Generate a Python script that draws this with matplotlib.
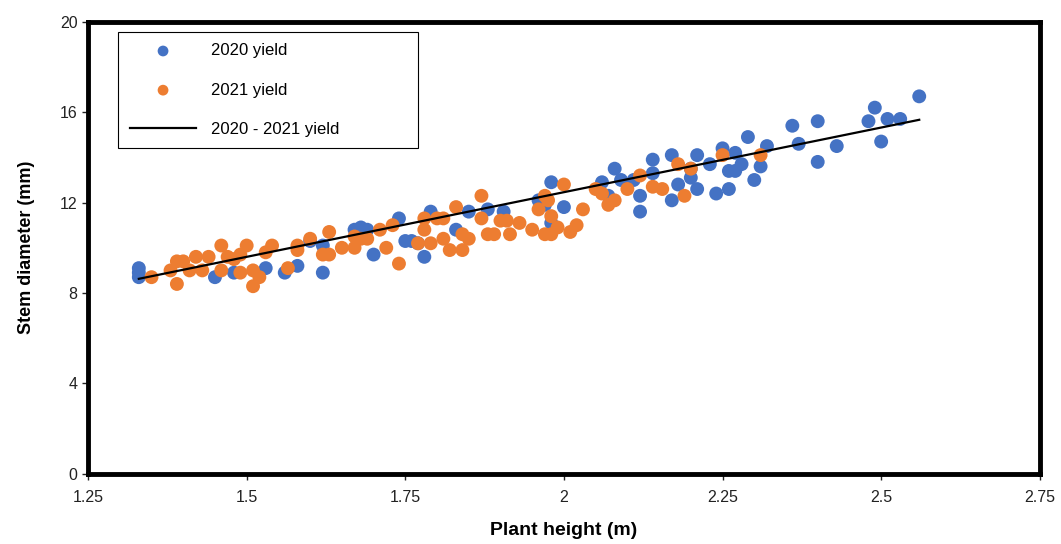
import numpy as np
import matplotlib
matplotlib.use("Agg")
import matplotlib.pyplot as plt

plt.rcParams['font.family'] = ['Liberation Sans', 'DejaVu Sans']

# 2020 yield: plant height (m), stem diameter (mm)
height_2020 = [1.33, 1.33, 1.33, 1.45, 1.48, 1.53, 1.56, 1.58, 1.60, 1.62,
               1.62, 1.67, 1.68, 1.69, 1.70, 1.74, 1.75, 1.76, 1.77, 1.78,
               1.79, 1.83, 1.85, 1.88, 1.905, 1.96, 1.97, 1.98, 2.00, 1.98,
               2.06, 2.07, 2.08, 2.09, 2.11, 2.12, 2.12, 2.14, 2.14, 2.17,
               2.17, 2.18, 2.20, 2.20, 2.21, 2.21, 2.23, 2.24, 2.25, 2.26,
               2.26, 2.27, 2.27, 2.28, 2.29, 2.30, 2.31, 2.32, 2.36, 2.37,
               2.40, 2.40, 2.43, 2.48, 2.49, 2.50, 2.51, 2.53, 2.56]
stem_2020 = [8.7, 9.1, 8.9, 8.7, 8.9, 9.1, 8.9, 9.2, 10.3, 8.9,
             10.1, 10.8, 10.9, 10.8, 9.7, 11.3, 10.3, 10.3, 10.2, 9.6,
             11.6, 10.8, 11.6, 11.7, 11.6, 12.1, 11.9, 12.9, 11.8, 11.1,
             12.9, 12.3, 13.5, 13.0, 13.0, 11.6, 12.3, 13.3, 13.9, 12.1,
             14.1, 12.8, 13.5, 13.1, 14.1, 12.6, 13.7, 12.4, 14.4, 13.4,
             12.6, 14.2, 13.4, 13.7, 14.9, 13.0, 13.6, 14.5, 15.4, 14.6,
             13.8, 15.6, 14.5, 15.6, 16.2, 14.7, 15.7, 15.7, 16.7]

# 2021 yield
height_2021 = [1.35, 1.38, 1.39, 1.39, 1.40, 1.41, 1.42, 1.43, 1.44, 1.46,
               1.46, 1.47, 1.48, 1.49, 1.49, 1.50, 1.51, 1.51, 1.52, 1.53,
               1.54, 1.565, 1.58, 1.58, 1.60, 1.62, 1.63, 1.63, 1.65, 1.67,
               1.67, 1.68, 1.69, 1.71, 1.72, 1.73, 1.74, 1.77, 1.78, 1.78,
               1.79, 1.80, 1.81, 1.81, 1.82, 1.83, 1.84, 1.84, 1.85, 1.87,
               1.87, 1.88, 1.89, 1.90, 1.91, 1.915, 1.93, 1.95, 1.96, 1.97,
               1.97, 1.975, 1.98, 1.98, 1.99, 2.00, 2.01, 2.02, 2.03, 2.05,
               2.06, 2.07, 2.08, 2.10, 2.12, 2.14, 2.155, 2.18, 2.19, 2.20,
               2.25, 2.31]
stem_2021 = [8.7, 9.0, 9.4, 8.4, 9.4, 9.0, 9.6, 9.0, 9.6, 10.1,
             9.0, 9.6, 9.5, 9.7, 8.9, 10.1, 8.3, 9.0, 8.7, 9.8,
             10.1, 9.1, 10.1, 9.9, 10.4, 9.7, 10.7, 9.7, 10.0, 10.5,
             10.0, 10.4, 10.4, 10.8, 10.0, 11.0, 9.3, 10.2, 11.3, 10.8,
             10.2, 11.3, 11.3, 10.4, 9.9, 11.8, 9.9, 10.6, 10.4, 11.3,
             12.3, 10.6, 10.6, 11.2, 11.2, 10.6, 11.1, 10.8, 11.7, 12.3,
             10.6, 12.1, 10.6, 11.4, 10.9, 12.8, 10.7, 11.0, 11.7, 12.6,
             12.4, 11.9, 12.1, 12.6, 13.2, 12.7, 12.6, 13.7, 12.3, 13.5,
             14.1, 14.1]

# trend line of both years
trend_slope = 5.72
trend_intercept = 1.02

x_ticks = [1.25, 1.5, 1.75, 2, 2.25, 2.5, 2.75]
x_tick_labels = ['1.25', '1.5', '1.75', '2', '2.25', '2.5', '2.75']
y_ticks = [0, 4, 8, 12, 16, 20]

all_x = np.array(height_2020 + height_2021)
line_x = np.array([all_x.min(), all_x.max()])

fig = plt.figure(figsize=(10.61, 5.44), dpi=100)
ax = fig.add_axes([0.083, 0.129, 0.897, 0.831])

ax.scatter(height_2020, stem_2020, s=100, color='#4472C4', edgecolors='none',
           label='2020 yield', zorder=2)
ax.scatter(height_2021, stem_2021, s=100, color='#ED7D31', edgecolors='none',
           label='2021 yield', zorder=3)
ax.plot(line_x, trend_slope * line_x + trend_intercept, color='black', lw=1.6,
        label='2020 - 2021 yield', zorder=4)

ax.set_xlim(1.25, 2.75)
ax.set_ylim(0, 20)
ax.set_xticks(x_ticks)
ax.set_xticklabels(x_tick_labels)
ax.set_yticks(y_ticks)
ax.tick_params(axis='both', labelsize=11.5, colors='#222222', length=4,
               width=1, direction='out')
ax.tick_params(axis='x', pad=8)

for sp in ax.spines.values():
    sp.set_linewidth(3.5)
    sp.set_color('black')

ax.set_xlabel('Plant height (m)', fontsize=14, fontweight='bold', labelpad=12)
ax.set_ylabel('Stem diameter (mm)', fontsize=13, fontweight='bold', labelpad=18)

leg = ax.legend(loc='upper left', bbox_to_anchor=(0.0315, 0.978, 0.315, 0.0),
                mode='expand', borderaxespad=0, fontsize=12,
                labelspacing=1.45, handlelength=4.0, handletextpad=0.9,
                borderpad=0.7, fancybox=False, framealpha=1, edgecolor='black',
                scatterpoints=1)
leg.get_frame().set_linewidth(0.8)
for h in leg.legend_handles[:2]:
    h.set_sizes([60])

fig.savefig('out.png', dpi=100)
